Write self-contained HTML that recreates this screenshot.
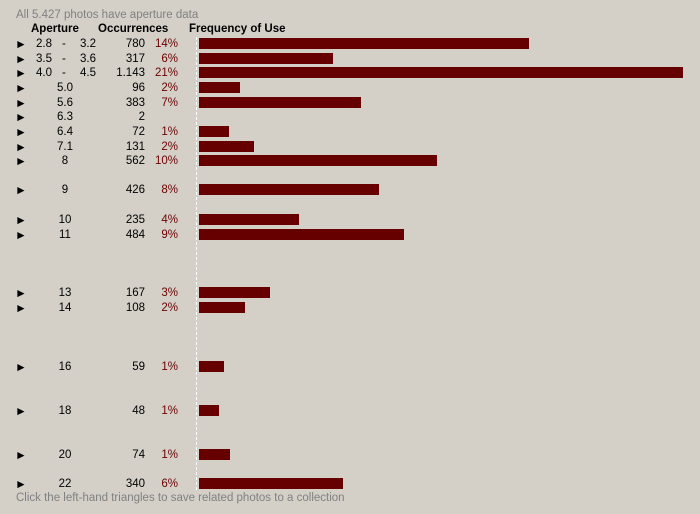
<!DOCTYPE html><html><head><style>
body{margin:0;width:700px;height:514px;background:#d4d0c8;font-family:"Liberation Sans",sans-serif;font-size:11.5px;color:#000;position:relative;overflow:hidden}
div{position:absolute;white-space:nowrap;line-height:13px}
.g{color:#808080}
.b{font-weight:bold}
.t{font-size:12px;left:15px}
.p{color:#6b0000;text-align:right;width:40px;left:138px}
.o{text-align:right;width:60px;left:85px}
.a{text-align:center;width:40px;left:45px}
.bar{background:#660000;height:11px;left:199px}
</style></head><body>
<div class="g" style="left:16px;top:9px">All 5.427 photos have aperture data</div>
<div class="b" style="left:31px;top:23px">Aperture</div>
<div class="b" style="left:98px;top:23px">Occurrences</div>
<div class="b" style="left:189px;top:23px">Frequency of Use</div>
<div style="left:196px;top:37px;width:0;height:453px;border-left:1px dashed #fff"></div>
<div class="g" style="left:16px;top:492px">Click the left-hand triangles to save related photos to a collection</div>
<script>
var rows=[[43,"2.8 - 3.2",780,"14%"],[58,"3.5 - 3.6",317,"6%"],[72,"4.0 - 4.5",1143,"21%"],[87,"5.0",96,"2%"],[102,"5.6",383,"7%"],[116,"6.3",2,""],[131,"6.4",72,"1%"],[146,"7.1",131,"2%"],[160,"8",562,"10%"],[189,"9",426,"8%"],[219,"10",235,"4%"],[234,"11",484,"9%"],[292,"13",167,"3%"],[307,"14",108,"2%"],[366,"16",59,"1%"],[410,"18",48,"1%"],[454,"20",74,"1%"],[483,"22",340,"6%"]];
var h="";
rows.forEach(function(r){var y=r[0]-5;
h+='<div class="t" style="top:'+(y)+'px">&#9658;</div>';
if(r[1].indexOf("-")>0){var s=r[1].split(" - ");h+='<div style="left:36px;top:'+y+'px">'+s[0]+'</div><div style="left:62px;top:'+y+'px">-</div><div style="left:80px;top:'+y+'px">'+s[1]+'</div>';}
else h+='<div class="a" style="top:'+y+'px">'+r[1]+'</div>';
h+='<div class="o" style="top:'+y+'px">'+(r[2]==1143?"1.143":r[2])+'</div>';
h+='<div class="p" style="top:'+y+'px">'+r[3]+'</div>';
var w=Math.round(r[2]*0.4235);if(w>=4)h+='<div class="bar" style="top:'+(r[0]-5)+'px;width:'+w+'px"></div>';});
document.write(h);
</script>
</body></html>
